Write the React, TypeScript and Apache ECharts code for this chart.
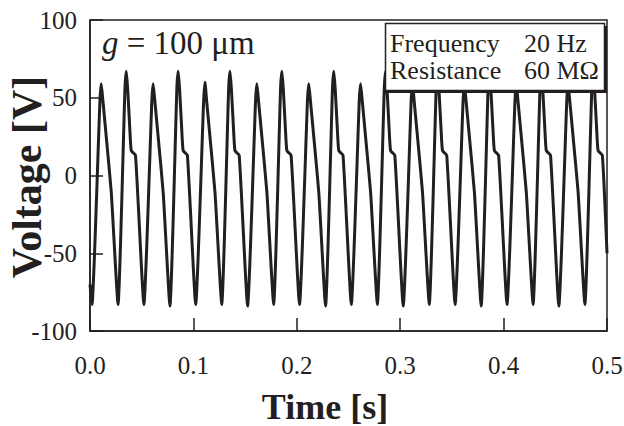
import React, { useEffect, useRef } from "react";
import * as echarts from "echarts";

// Time samples [s] (10 cycles + start/end)
const timeS: number[] = [
  0.0,
  0.0019, 0.0096, 0.0109, 0.0125, 0.0157, 0.0206, 0.0271, 0.0338, 0.0351, 0.0365, 0.0385, 0.0399, 0.0440,
  0.0521, 0.0598, 0.0611, 0.0627, 0.0659, 0.0708, 0.0773, 0.0840, 0.0853, 0.0867, 0.0887, 0.0901, 0.0942,
  0.1022, 0.1099, 0.1112, 0.1128, 0.1160, 0.1209, 0.1274, 0.1341, 0.1354, 0.1368, 0.1388, 0.1402, 0.1443,
  0.1524, 0.1601, 0.1614, 0.1630, 0.1662, 0.1711, 0.1776, 0.1843, 0.1856, 0.1870, 0.1890, 0.1904, 0.1945,
  0.2026, 0.2103, 0.2116, 0.2132, 0.2164, 0.2213, 0.2278, 0.2345, 0.2358, 0.2372, 0.2392, 0.2406, 0.2447,
  0.2527, 0.2604, 0.2617, 0.2633, 0.2665, 0.2714, 0.2779, 0.2846, 0.2859, 0.2873, 0.2893, 0.2907, 0.2948,
  0.3029, 0.3106, 0.3119, 0.3135, 0.3167, 0.3216, 0.3281, 0.3348, 0.3361, 0.3375, 0.3395, 0.3409, 0.3450,
  0.3531, 0.3608, 0.3621, 0.3637, 0.3669, 0.3718, 0.3783, 0.3850, 0.3863, 0.3877, 0.3897, 0.3911, 0.3952,
  0.4033, 0.4110, 0.4123, 0.4139, 0.4171, 0.4220, 0.4285, 0.4352, 0.4365, 0.4379, 0.4399, 0.4413, 0.4454,
  0.4534, 0.4611, 0.4624, 0.4640, 0.4672, 0.4721, 0.4786, 0.4853, 0.4866, 0.4880, 0.4900, 0.4914, 0.4955,
  0.5000,
];

// Voltage samples [V] matching timeS
const voltageV: number[] = [
  -70,
  -83, 48, 59, 48, 25, -11, -83, 56, 67, 55, 30, 16, 13,
  -83, 48, 59, 48, 25, -11, -84, 56, 67, 55, 30, 16, 13,
  -83, 48, 60, 48, 25, -11, -83, 56, 67, 55, 30, 16, 13,
  -84, 48, 59, 48, 25, -11, -83, 56, 67, 55, 30, 16, 13,
  -83, 48, 59, 48, 25, -11, -84, 56, 67, 55, 30, 16, 13,
  -83, 48, 59, 48, 25, -11, -83, 56, 67, 55, 30, 16, 13,
  -84, 48, 60, 48, 25, -11, -83, 56, 67, 55, 30, 16, 13,
  -83, 48, 59, 48, 25, -11, -84, 56, 67, 55, 30, 16, 13,
  -83, 48, 59, 48, 25, -11, -83, 56, 67, 55, 30, 16, 13,
  -84, 48, 59, 48, 25, -11, -83, 56, 67, 55, 30, 16, 13,
  -50,
];

const xTicks = [0, 0.1, 0.2, 0.3, 0.4, 0.5];
const yTicks = [-100, -50, 0, 50, 100];
const legendLabels = ["Frequency", "Resistance"];
const legendValues = ["20 Hz", "60 MΩ"];
const gapLabel = "100 μm";
const xTitle = "Time [s]";
const yTitle = "Voltage [V]";

const FONT = "Liberation Serif";
const INK = "#231f20";

export default function App() {
  const ref = useRef<HTMLDivElement>(null);

  useEffect(() => {
    document.body.style.margin = "0";
    if (!ref.current) return;
    const chart = echarts.init(ref.current, null, { renderer: "svg" });
    const data = timeS.map((t, i) => [t, voltageV[i]]);

    const legendItems: any[] = [];
    legendLabels.forEach((lab, i) => {
      legendItems.push({
        type: "text",
        x: 390,
        y: 43 + i * 27,
        z: 102,
        style: {
          text: lab,
          fontFamily: FONT,
          fontSize: 26,
          fill: INK,
          verticalAlign: "middle",
          align: "left",
        },
      });
      legendItems.push({
        type: "text",
        x: 524,
        y: 43 + i * 27,
        z: 102,
        style: {
          text: legendValues[i],
          fontFamily: FONT,
          fontSize: 26,
          fill: INK,
          verticalAlign: "middle",
          align: "left",
        },
      });
    });

    chart.setOption({
      animation: false,
      backgroundColor: "#ffffff",
      grid: {
        left: 90,
        right: 17,
        top: 20,
        bottom: 95,
        containLabel: false,
        outerBoundsMode: "none",
        show: true,
        borderColor: INK,
        borderWidth: 1.5,
        backgroundColor: "transparent",
      },
      xAxis: {
        type: "value",
        min: xTicks[0],
        max: xTicks[xTicks.length - 1],
        interval: 0.1,
        axisLine: { show: true, onZero: false, lineStyle: { color: INK, width: 1.5 } },
        axisTick: { show: true, inside: true, length: 13, lineStyle: { color: INK, width: 1.5 } },
        axisLabel: {
          fontFamily: FONT,
          fontSize: 25,
          color: INK,
          margin: 22,
          formatter: (v: number) => v.toFixed(1),
        },
        splitLine: { show: false },
      },
      yAxis: {
        type: "value",
        min: yTicks[0],
        max: yTicks[yTicks.length - 1],
        interval: 50,
        axisLine: { show: true, onZero: false, lineStyle: { color: INK, width: 1.5 } },
        axisTick: { show: true, inside: true, length: 13, lineStyle: { color: INK, width: 1.5 } },
        axisLabel: {
          fontFamily: FONT,
          fontSize: 25,
          color: INK,
          margin: 13,
        },
        splitLine: { show: false },
      },
      series: [
        {
          type: "line",
          data,
          showSymbol: false,
          symbol: "none",
          smooth: 0.15,
          clip: true,
          lineStyle: { color: INK, width: 3 },
          z: 2,
        },
      ],
      graphic: [
        {
          type: "text",
          x: 325,
          y: 407,
          z: 100,
          style: {
            text: xTitle,
            fontFamily: FONT,
            fontWeight: "bold",
            fontSize: 36,
            fill: INK,
            align: "center",
            verticalAlign: "middle",
          },
        },
        {
          type: "text",
          x: 27,
          y: 177,
          rotation: Math.PI / 2,
          z: 100,
          style: {
            text: yTitle,
            fontFamily: FONT,
            fontWeight: "bold",
            fontSize: 42,
            fill: INK,
            align: "center",
            verticalAlign: "middle",
          },
        },
        {
          type: "text",
          x: 102,
          y: 43,
          z: 100,
          style: {
            text: "{i|g} = " + gapLabel,
            fontFamily: FONT,
            fontSize: 33,
            fill: INK,
            verticalAlign: "middle",
            rich: {
              i: { fontStyle: "italic", fontFamily: FONT, fontSize: 33, fill: INK },
            },
          },
        },
        {
          type: "rect",
          z: 100,
          shape: { x: 388, y: 26, width: 219, height: 67 },
          style: { fill: INK },
        },
        {
          type: "rect",
          z: 101,
          shape: { x: 385.5, y: 23.5, width: 219, height: 67 },
          style: { fill: "#ffffff", stroke: INK, lineWidth: 1.5 },
        },
        ...legendItems,
      ],
    });

    return () => {
      chart.dispose();
    };
  }, []);

  return <div ref={ref} style={{ width: 624, height: 426 }} />;
}
